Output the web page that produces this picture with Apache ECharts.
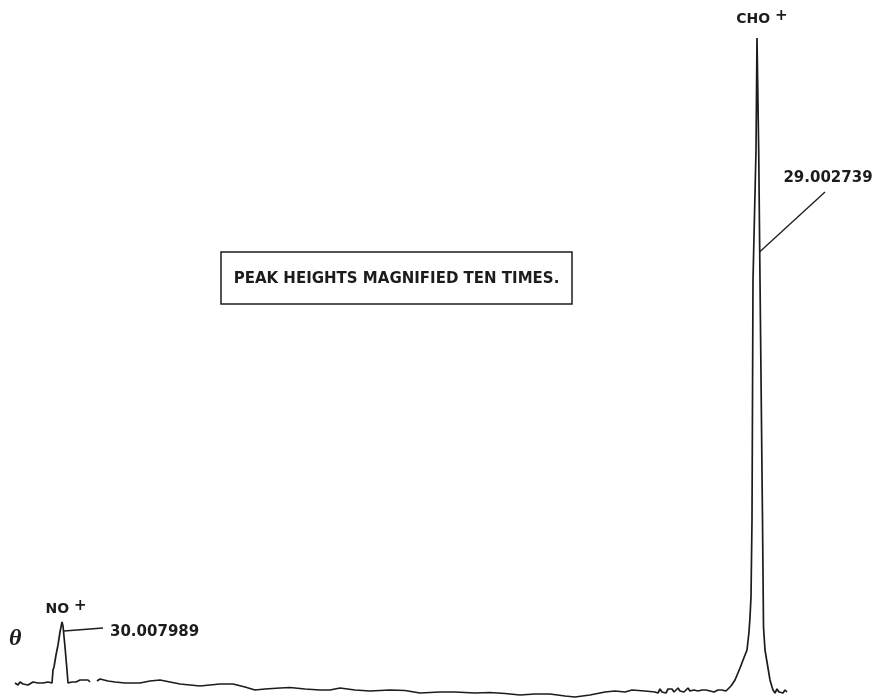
<!DOCTYPE html>
<html>
<head>
<meta charset="utf-8">
<script src="https://cdn.jsdelivr.net/npm/echarts@6/dist/echarts.min.js"></script>
<style>
  html, body { margin: 0; padding: 0; background: #ffffff; }
  #chart { width: 879px; height: 698px; }
</style>
</head>
<body>
<div id="chart"></div>
<script>
// Recorder trace: scan position (chart units) and signal height above baseline.
// A null entry marks a break in the pen trace.
const scanPosition = [
  15, 18, 20, 23, 25, 28, 30, 33, 35, 38, 40, 43, 45, 48, 50,
  52, 53, 54, 56, 58, 60, 62, 63, 65, 67, 68,
  70, 72, 74, 76, 78, 80, 82, 84, 86, 88, 90, 93,
  97, 100, 104, 108, 115, 125, 140, 150, 160, 170, 180, 190, 200, 210, 220, 233,
  245, 255, 265, 280, 290, 305, 320, 330, 340, 355, 370, 390, 405, 420, 440, 455,
  475, 490, 505, 520, 535, 550, 565, 575, 590, 605, 615, 625, 632, 645, 655,
  658, 660, 662, 664, 666, 668, 670, 672, 674, 676, 678, 680, 682, 684, 686, 688,
  690, 692, 694, 696, 698, 700, 702, 704, 706, 708, 710, 712, 714, 716, 718, 720,
  722, 724, 726, 728,
  731, 735, 740, 745, 747, 749, 750, 751, 752, 753, 756, 757,
  758.7, 760, 762.5, 763.5, 765, 768, 770, 772, 773,
  775, 777, 779, 781, 783, 785, 787
];
const signal = [
  9, 7, 10, 8, 9, 7, 9, 10, 8, 9, 7, 9, 8, 10, 9,
  9, 22, 25, 37, 47, 60, 70, 66, 45, 22, 9,
  11, 10, 12, 10, 11, 12, 10, 12, 11, 12, 10, null,
  11, 13, 12, 11, 10, 9, 9, 11, 12, 10, 8, 7, 6, 7, 8, 8,
  5, 2, 3, 4, 4.5, 3, 2, 2, 4, 2, 1, 2, 1.5, -1, 0, 0,
  -1, -0.5, -1.5, -3, -2, -2, -4, -5, -3, 0, 1, 0, 2, 1, 0,
  -1, 3, 0, 2, -1, 3, 1, 3, 0, 2, 4, 1, 3, 0, 2, 4,
  1, 3, 2, 4, 1, 3, 2, 0, 2, 3, 1, 2, 0, 1, 2, 0,
  2, 0, 1, 0,
  6, 12, 24, 37, 42, 60, 75, 95, 172, 412, 542, 654,
  542, 412, 172, 65, 42, 24, 12, 5, 2,
  -1, 3, 0, 2, -1, 2, 0
];

// Peak identifications and measured masses
const peakNames = ['NO', 'CHO'];
const peakPositions = [62, 757];
const peakHeights = [70, 654];
const peakMasses = ['30.007989', '29.002739'];
// Arrow tails and heads (position, height) for each mass callout
const arrowTails = [[103, 64], [825, 500]];
const arrowHeads = [[64, 61], [759.5, 440]];
const noteText = 'PEAK HEIGHTS MAGNIFIED TEN TIMES.';

const INK = '#1c1c1c';
const LETTER = 'DejaVu Sans';

const chart = echarts.init(document.getElementById('chart'), null, { renderer: 'canvas' });

const trace = scanPosition.map((x, i) => [x, signal[i] === null ? '-' : signal[i]]);

function ionLabel(name, distance, offset) {
  return {
    show: true, position: 'top', distance: distance, offset: offset,
    formatter: name + ' {p|+}',
    color: INK, fontFamily: LETTER, fontWeight: 'bold', fontSize: 14,
    rich: { p: { fontFamily: LETTER, fontWeight: 'bold', fontSize: 15, color: INK, padding: [0, 0, 5, 0] } }
  };
}

function massLabel(text, position, distance, offset) {
  return {
    show: true, position: position, distance: distance, offset: offset,
    formatter: text,
    color: INK, fontFamily: LETTER, fontWeight: 'bold', fontSize: 15
  };
}

chart.setOption({
  animation: false,
  backgroundColor: '#ffffff',
  grid: { left: 0, right: 0, top: 0, bottom: 0, containLabel: false },
  xAxis: { type: 'value', min: 0, max: 879, show: false },
  yAxis: { type: 'value', min: -6, max: 692, show: false },
  series: [{
    type: 'line',
    data: trace,
    showSymbol: false,
    connectNulls: false,
    lineStyle: { color: INK, width: 1.7 },
    markPoint: {
      symbol: 'circle',
      symbolSize: 0,
      itemStyle: { color: 'transparent' },
      data: [
        { coord: [peakPositions[0], peakHeights[0]], label: ionLabel(peakNames[0], 3, [4, 0]) },
        { coord: [peakPositions[1], peakHeights[1]], label: ionLabel(peakNames[1], 9, [5, 0]) },
        { coord: arrowTails[0], label: massLabel(peakMasses[0], 'right', 7, [0, 4]) },
        { coord: arrowTails[1], label: massLabel(peakMasses[1], 'top', 6, [3, 0]) }
      ]
    },
    markLine: {
      silent: true,
      symbol: ['none', 'arrow'],
      symbolSize: [0, 9],
      label: { show: false },
      lineStyle: { color: INK, width: 1.3, type: 'solid' },
      data: [
        [{ coord: arrowTails[0] }, { coord: arrowHeads[0] }],
        [{ coord: arrowTails[1] }, { coord: arrowHeads[1] }]
      ]
    }
  }],
  graphic: [
    {
      type: 'rect',
      x: 221, y: 252,
      shape: { width: 351, height: 52 },
      style: { fill: 'none', stroke: INK, lineWidth: 1.5 }
    },
    {
      type: 'text',
      x: 396.5, y: 279,
      style: {
        text: noteText,
        fill: INK,
        align: 'center',
        verticalAlign: 'middle',
        font: 'bold 15px "DejaVu Sans"'
      }
    },
    {
      type: 'text',
      x: 9, y: 627,
      style: {
        text: 'θ',
        fill: INK,
        font: 'italic bold 24px "Liberation Serif"'
      }
    }
  ]
});
</script>
</body>
</html>
